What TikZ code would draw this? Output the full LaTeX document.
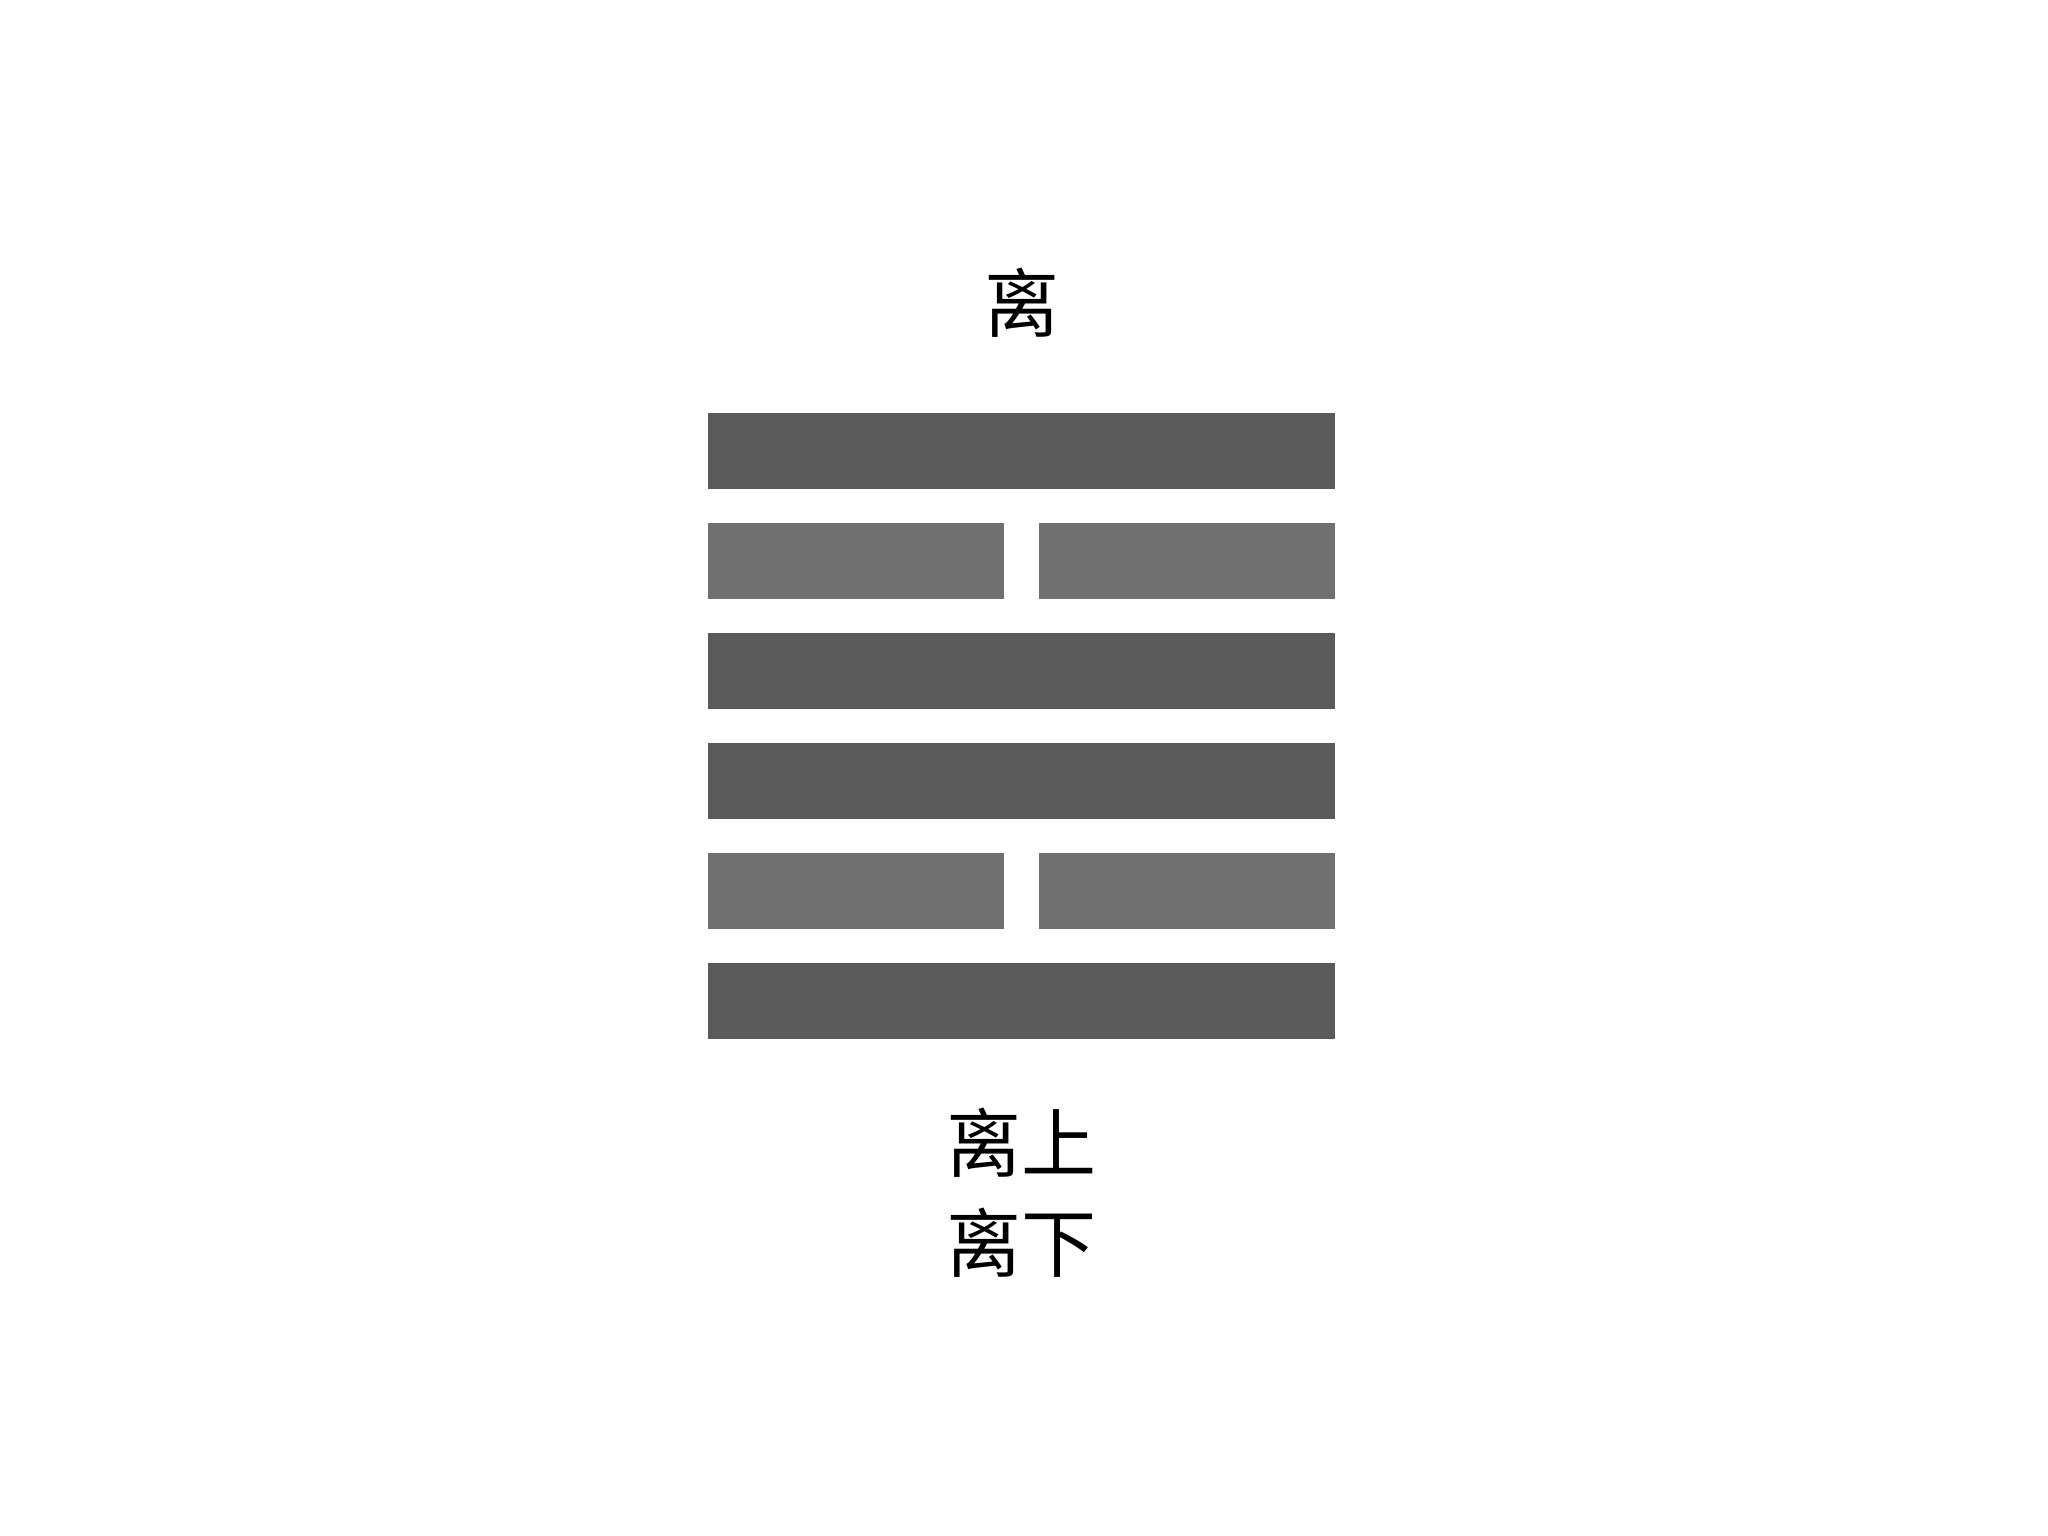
\documentclass[tikz,border=0pt]{standalone}
\usepackage{fontspec}
\newfontfamily\cjk{Noto Sans CJK SC}
\usetikzlibrary{positioning,calc}
\definecolor{yangGray}{HTML}{5A5A5A}
\definecolor{yinGray}{HTML}{707070}

\begin{document}
\begin{tikzpicture}[x=1pt,y=-1pt,
	yang/.style={rectangle, fill=yangGray, inner sep=0, minimum width=627, minimum height=76},
	yin/.style={rectangle, fill=yinGray, inner sep=0, minimum width=296, minimum height=76},
	hanzi/.style={inner sep=0, font=\cjk\fontsize{75}{90}\selectfont}]
		
		\useasboundingbox (0,0) rectangle (2048,1536);
		
		% Six lines, top to bottom
		\node[yang] (line6) at (1021.5,451) {};
		\node[yin] (line5a) at ($(line6) + (-165.5,110)$) {};
		\node[yin] (line5b) at ($(line6) + (165.5,110)$) {};
		\node[yang] (line4) at ($(line6) + (0,220)$) {};
		\node[yang] (line3) at ($(line6) + (0,330)$) {};
		\node[yin] (line2a) at ($(line6) + (-165.5,440)$) {};
		\node[yin] (line2b) at ($(line6) + (165.5,440)$) {};
		\node[yang] (line1) at ($(line6) + (0,550)$) {};
		
		% Name and trigrams
		\node[hanzi] (title) at ($(line6) + (0,-148)$) {离};
		\node[hanzi] (upper) at ($(line1) + (0,142)$) {离上};
		\node[hanzi] (lower) at ($(upper) + (0,100)$) {离下};
	\end{tikzpicture}
\end{document}
